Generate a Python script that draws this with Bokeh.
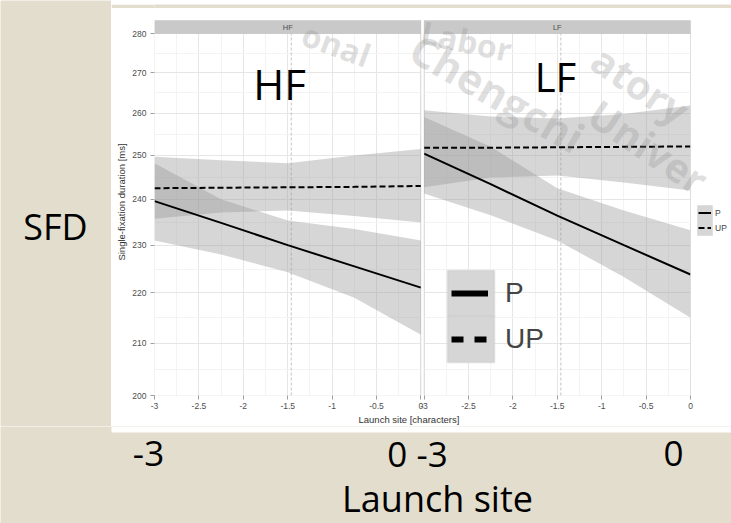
import numpy as np
from bokeh.plotting import figure
from bokeh.layouts import column, row
from bokeh.models import (Range1d, FixedTicker, NumeralTickFormatter, BoxAnnotation, Label,
                          Legend, LegendItem, ColumnDataSource, Title)
from bokeh.embed import file_html
from bokeh.resources import INLINE

# ---------------- data ----------------
panels = ["HF", "LF"]
x_pts = [-3, -2.25, -1.5, -0.75, 0]

hf_p = [239.6, 234.8, 230.0, 225.5, 221.1]
hf_p_lo = [231.0, 228.0, 224.3, 219.0, 211.6]
hf_p_hi = [248.2, 240.0, 235.3, 233.5, 231.0]
hf_up = [242.5, 242.6, 242.7, 242.8, 243.0]
hf_up_lo = [235.7, 237.1, 237.5, 236.3, 234.9]
hf_up_hi = [249.7, 248.9, 248.2, 250.0, 251.5]

lf_p = [250.4, 243.4, 236.4, 230.0, 223.8]
lf_p_lo = [241.3, 236.5, 231.0, 223.3, 215.0]
lf_p_hi = [259.1, 252.0, 242.5, 237.5, 233.2]
lf_up = [251.8, 251.8, 251.9, 252.0, 252.1]
lf_up_lo = [242.7, 244.9, 245.4, 243.8, 242.0]
lf_up_hi = [260.7, 259.2, 258.7, 259.8, 261.9]

mean_launch = -1.46
x_ticks = [-3, -2.5, -2, -1.5, -1, -0.5, 0]
x_tick_labels = ["-3", "-2.5", "-2", "-1.5", "-1", "-0.5", "0"]
y_ticks = [200, 210, 220, 230, 240, 250, 260, 270, 280]
series_labels = ["P", "UP"]

BEIGE = "#e2ddcd"

# ---------------- geometry helpers ----------------
GAP = 0.035
offsets = {"HF": 0.0, "LF": 3.0 + GAP}
PXU = 536 / (6 + GAP)                      # px per x unit
x_right = -3 + 577 / PXU                   # frame extends to right page edge (731)
y_top = 200 * (280 / 200) ** (387 / 362)   # frame extends to top of white area (y=8)
MAIN_BOTTOM = 426                          # page y where the main figure ends


def sx(X):  # page px -> frame-relative screen x
    return X - 154


def sy(Y):  # page px -> frame-relative screen y (upwards)
    return 395 - Y


def lift(size_px):  # empirical baseline correction for big labels
    return round(0.34 * size_px)


main = figure(width=620, height=MAIN_BOTTOM - 8, x_range=Range1d(-3, x_right),
              y_range=Range1d(200, y_top), y_axis_type="log", output_backend="svg",
              toolbar_location=None, min_border_left=43, min_border_right=0, min_border_top=0,
              min_border_bottom=MAIN_BOTTOM - 395)
main.border_fill_color = "white"
main.background_fill_color = "white"
main.outline_line_color = None

# ticks / grid
maj, minr, overrides = [], [], {}
for pn in panels:
    o = offsets[pn]
    for v, lab in zip(x_ticks, x_tick_labels):
        key = round(v + o, 4)
        maj.append(key)
        overrides[key] = lab
    for v in x_ticks[:-1]:
        minr.append(round(v + 0.25 + o, 4))
main.xaxis.ticker = FixedTicker(ticks=maj, minor_ticks=minr)
main.xaxis.major_label_overrides = overrides
y_minor = [float(np.sqrt(a * b)) for a, b in zip(y_ticks[:-1], y_ticks[1:])]
main.yaxis.ticker = FixedTicker(ticks=y_ticks, minor_ticks=y_minor)
main.yaxis.formatter = NumeralTickFormatter(format="0")

for g in (main.xgrid, main.ygrid):
    g.grid_line_color = "#e6e6e6"
    g.grid_line_width = 1
    g.minor_grid_line_color = "#f3f3f3"
    g.minor_grid_line_width = 1

for ax in (main.xaxis, main.yaxis):
    ax.axis_line_color = None
    ax.major_tick_line_color = "#a0a0a0"
    ax.major_tick_out = 4
    ax.major_tick_in = 0
    ax.minor_tick_line_color = None
    ax.major_label_text_font = "Liberation Sans"
    ax.major_label_text_font_size = "8.5px"
    ax.major_label_text_color = "#4d4d4d"
    ax.axis_label_text_font = "Liberation Sans"
    ax.axis_label_text_font_size = "9.5px"
    ax.axis_label_text_font_style = "normal"
    ax.axis_label_text_color = "#333333"
main.yaxis.axis_label = "Single-fixation duration [ms]"
main.yaxis.major_label_standoff = 4
main.yaxis.axis_label_standoff = 2
main.xaxis.major_label_standoff = 3
main.add_layout(Title(text="Launch site [characters]", align="left", offset=sx(358), standoff=0,
                      text_font="Liberation Sans", text_font_size="9.5px",
                      text_font_style="normal", text_color="#333333"), "below")

# ---------------- data layers ----------------
data = {
    "HF": (hf_p, hf_p_lo, hf_p_hi, hf_up, hf_up_lo, hf_up_hi),
    "LF": (lf_p, lf_p_lo, lf_p_hi, lf_up, lf_up_lo, lf_up_hi),
}
line_renderers = {}
for pn in panels:
    o = offsets[pn]
    xs = [v + o for v in x_pts]
    pm, plo, phi, um, ulo, uhi = data[pn]
    main.segment(x0=[mean_launch + o], y0=[y_ticks[0]], x1=[mean_launch + o], y1=[y_ticks[-1]],
                 line_color="#c4c4c4", line_width=1, line_dash="3 2")
    main.varea(x=xs, y1=ulo, y2=uhi, fill_color="#999999", fill_alpha=0.4)
    main.varea(x=xs, y1=plo, y2=phi, fill_color="#999999", fill_alpha=0.4)
    r1 = main.line(x=xs, y=pm, line_color="black", line_width=2)
    r2 = main.line(x=xs, y=um, line_color="black", line_width=2, line_dash="6 3")
    line_renderers[pn] = (r1, r2)

# white masks outside the panels (hide grid there)
main.add_layout(BoxAnnotation(bottom=y_ticks[-1], fill_color="white", fill_alpha=1, line_color=None))
main.add_layout(BoxAnnotation(left=x_ticks[-1] + offsets["LF"], fill_color="white", fill_alpha=1,
                              line_color=None))
main.add_layout(BoxAnnotation(left=x_ticks[-1], right=x_ticks[0] + offsets["LF"],
                              fill_color="white", fill_alpha=1, line_color=None))

for pn in panels:
    o = offsets[pn]
    # panel border
    main.add_layout(BoxAnnotation(left=x_ticks[0] + o, right=x_ticks[-1] + o,
                                  bottom=y_ticks[0], top=y_ticks[-1], fill_alpha=0,
                                  line_color="#b3b3b3", line_width=1))
    # strip
    main.add_layout(BoxAnnotation(left=x_ticks[0] + o, right=x_ticks[-1] + o,
                                  bottom=y_ticks[-1], top=sy(20), top_units="screen",
                                  fill_color="#c9c9c9", fill_alpha=1,
                                  line_color="#b3b3b3", line_width=1))
    main.add_layout(Label(x=(x_ticks[0] + x_ticks[-1]) / 2 + o, y=sy(27), y_units="screen",
                          text=pn, text_font="Liberation Sans", text_font_size="7.5px",
                          text_color="#4d4d4d", text_align="center", text_baseline="middle"))

# small legend at right
main.add_layout(BoxAnnotation(left=sx(697), right=sx(712), top=sy(205), bottom=sy(235),
                              left_units="screen", right_units="screen", top_units="screen",
                              bottom_units="screen", fill_color="#d6d6d6", fill_alpha=1,
                              line_color="#c8c8c8", line_width=1))
small_leg = Legend(items=[LegendItem(label=series_labels[0], renderers=[line_renderers["HF"][0]]),
                          LegendItem(label=series_labels[1], renderers=[line_renderers["HF"][1]])],
                   location=(sx(698), sy(235)), glyph_width=13, glyph_height=15, spacing=0,
                   padding=0, margin=0, label_standoff=4, border_line_color=None,
                   background_fill_alpha=0, label_text_font="Liberation Sans",
                   label_text_font_size="8.5px", label_height=15)
main.add_layout(small_leg)

# big pasted legend
for top, bot in [(270, 316), (316, 362)]:
    main.add_layout(BoxAnnotation(left=sx(447), right=sx(494), top=sy(top), bottom=sy(bot),
                                  left_units="screen", right_units="screen", top_units="screen",
                                  bottom_units="screen", fill_color="#d6d6d6", fill_alpha=1,
                                  line_color="#c2c2c2", line_width=2))
nan_src = ColumnDataSource(data=dict(x=[np.nan], y=[np.nan]))
d1 = main.line(x="x", y="y", source=nan_src, line_color="black", line_width=6)
d2 = main.line(x="x", y="y", source=nan_src, line_color="black", line_width=6, line_dash="12 11")
big_leg = Legend(items=[LegendItem(label=series_labels[0], renderers=[d1]),
                        LegendItem(label=series_labels[1], renderers=[d2])],
                 location=(sx(451), sy(362)), glyph_width=37, glyph_height=46, spacing=0,
                 padding=0, margin=0, label_standoff=17, border_line_color=None,
                 background_fill_alpha=0, label_text_font="Liberation Sans",
                 label_text_font_size="28px", label_height=46)
main.add_layout(big_leg)

# watermark
for txt, X, Y, ang, fs in [("onal", 336, 44, -20, 32), ("Labor", 466, 40, -12, 32),
                           ("atory", 640, 84, -34, 40), ("Chengchi", 497, 92, -30, 42),
                           ("Univer", 648, 146, -34, 40)]:
    main.add_layout(Label(x=sx(X), y=sy(Y), x_units="screen", y_units="screen", text=txt,
                          angle=ang, angle_units="deg", text_font="Open Sans",
                          text_font_style="bold", text_font_size=f"{fs}px", text_color="#8f8f8f",
                          text_alpha=0.28, text_align="center", text_baseline="middle"))

# big slide labels inside the chart
for txt, X, Y, size in [("HF", 279, 97, 42), ("LF", 555, 90, 40)]:
    main.add_layout(Label(x=sx(X), y=sy(Y - lift(size)), x_units="screen", y_units="screen",
                          text=txt, text_font="Open Sans", text_font_size=f"{size}px",
                          text_color="black", text_align="center", text_baseline="alphabetic"))


# ---------------- slide (beige) parts ----------------
def slide_fig(w, h):
    f = figure(width=w, height=h, x_range=Range1d(0, w), y_range=Range1d(0, h),
               x_axis_type=None, y_axis_type=None, output_backend="svg", toolbar_location=None,
               min_border=0, min_border_left=0, min_border_right=0, min_border_top=0,
               min_border_bottom=0)
    f.background_fill_color = BEIGE
    f.border_fill_color = BEIGE
    f.outline_line_color = None
    f.grid.visible = False
    return f


left = slide_fig(111, MAIN_BOTTOM)    # page x 0..111, y 0..426
left.add_layout(Label(x=55, y=MAIN_BOTTOM - (238 - lift(36)), text="SFD", text_font="Open Sans",
                      text_font_size="36px", text_color="black", text_align="center",
                      text_baseline="alphabetic"))

top_strip = slide_fig(620, 8)  # page x 111..731, y 0..8

BH = 523 - MAIN_BOTTOM
bottom = slide_fig(731, BH)   # page x 0..731, y 426..523
# continuation of the white chart area (page y 426..432)
bottom.add_layout(BoxAnnotation(left=111, right=731, bottom=523 - 432, top=BH,
                                fill_color="white", fill_alpha=1, line_color=None))
for txt, X, Y, size in [("-3", 148, 465, 35), ("0 -3", 417, 465, 35),
                        ("0", 673, 465, 35), ("Launch site", 437, 510, 36)]:
    bottom.add_layout(Label(x=X, y=523 - (Y - lift(size)), text=txt, text_font="Open Sans",
                            text_font_size=f"{size}px", text_color="black", text_align="center",
                            text_baseline="alphabetic"))

layout = column(row(left, column(top_strip, main, spacing=0), spacing=0), bottom, spacing=0)
open("out.html", "w").write(file_html(layout, INLINE))
